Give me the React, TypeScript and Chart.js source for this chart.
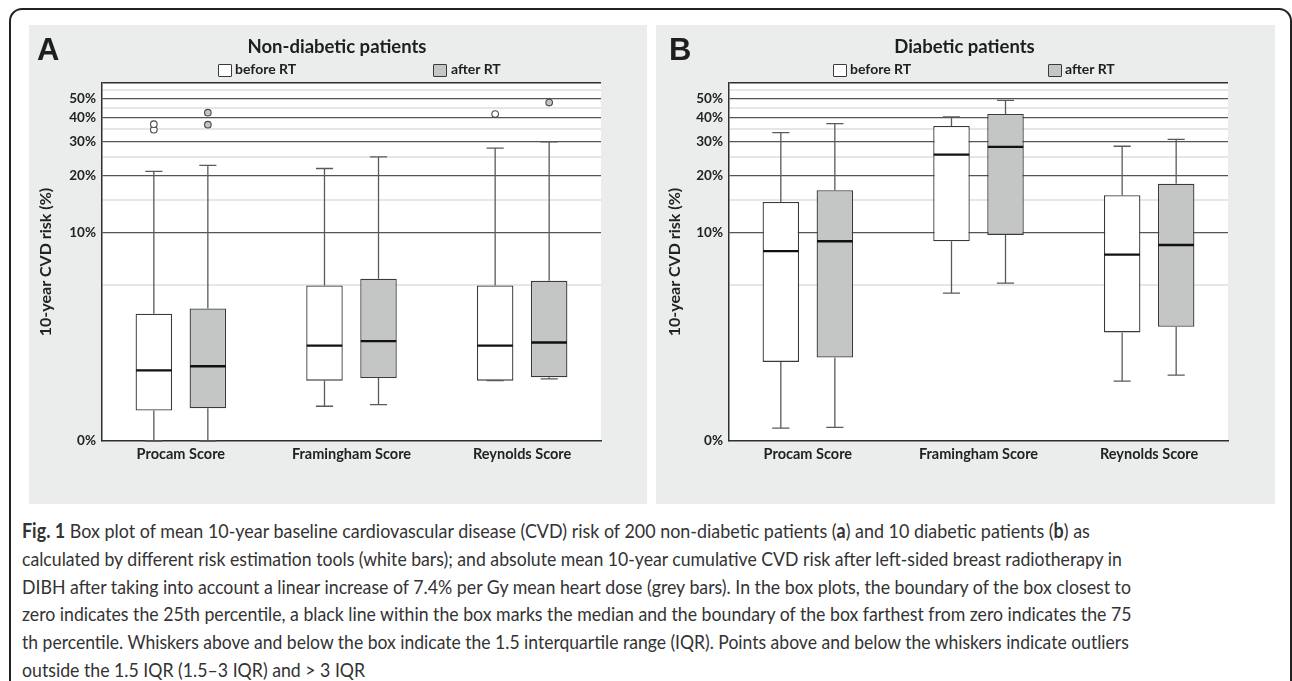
import React, { useEffect, useLayoutEffect, useRef } from 'react';
import { Chart, registerables, LinearScale } from 'chart.js';

Chart.register(...registerables);

// ---------------- data ----------------
const categories = ['Procam Score', 'Framingham Score', 'Reynolds Score'];
const categoryPositions = [0, 1, 2];
const seriesLabels = ['before RT', 'after RT'];
const yTickValues = [0, 5, 10, 15, 20, 25, 30, 35, 40, 45, 50, 55, 60];
const yLabelledTicks = [0, 10, 20, 30, 40, 50];
const yMin = 0;
const yMax = 60;

// Panel A: non-diabetic patients (values in %)
const aBeforeLow = [0, 0.49, 1.0];
const aBeforeQ1 = [0.42, 1.0, 1.0];
const aBeforeMedian = [1.25, 1.99, 1.99];
const aBeforeQ3 = [3.31, 4.97, 4.97];
const aBeforeHigh = [21.1, 21.85, 27.9];
const aBeforeOutliers = [[34.7, 37.0], [], [41.7]];
const aAfterLow = [0, 0.52, 1.04];
const aAfterQ1 = [0.455, 1.06, 1.08];
const aAfterMedian = [1.36, 2.15, 2.1];
const aAfterQ3 = [3.58, 5.44, 5.29];
const aAfterHigh = [22.7, 25.1, 30.0];
const aAfterOutliers = [[36.8, 42.4], [], [47.7]];

// Panel B: diabetic patients (values in %)
const bBeforeLow = [0.16, 4.46, 0.99];
const bBeforeQ1 = [1.48, 8.9, 2.48];
const bBeforeMedian = [7.85, 25.8, 7.5];
const bBeforeQ3 = [14.57, 36.2, 15.8];
const bBeforeHigh = [33.5, 40.3, 28.5];
const bBeforeOutliers = [[], [], []];
const bAfterLow = [0.17, 5.13, 1.13];
const bAfterQ1 = [1.61, 9.66, 2.71];
const bAfterMedian = [8.92, 28.3, 8.5];
const bAfterQ3 = [16.8, 41.7, 18.2];
const bAfterHigh = [37.3, 49.0, 30.9];
const bAfterOutliers = [[], [], []];

const captionLines = [
  [['Fig. 1', true], [' Box plot of mean 10-year baseline cardiovascular disease (CVD) risk of 200 non-diabetic patients (', false], ['a', true], [') and 10 diabetic patients (', false], ['b', true], [') as', false]],
  [['calculated by different risk estimation tools (white bars); and absolute mean 10-year cumulative CVD risk after left-sided breast radiotherapy in', false]],
  [['DIBH after taking into account a linear increase of 7.4% per Gy mean heart dose (grey bars). In the box plots, the boundary of the box closest to', false]],
  [['zero indicates the 25th percentile, a black line within the box marks the median and the boundary of the box farthest from zero indicates the 75', false]],
  [['th percentile. Whiskers above and below the box indicate the 1.5 interquartile range (IQR). Points above and below the whiskers indicate outliers', false]],
  [['outside the 1.5 IQR (1.5\u20133 IQR) and > 3 IQR', false]],
];
// right edge for each fully justified caption line (null = use the common scale)
const captionRightEdges = [1090, 1121.5, 1131, 1131.5, 1129, null];

// ---------------- styling ----------------
const PANEL_BG = '#ebecec';
const AFTER_FILL = '#c4c5c5';
const FONT = 'Lato, "Open Sans", sans-serif';

// custom scale: log10(v + 1)
class Log1pScale extends LinearScale {
  static id = 'log1p';
  static defaults = { ...(LinearScale as any).defaults };
  determineDataLimits() {
    const o: any = this.options;
    this.min = o.min;
    this.max = o.max;
  }
  buildTicks() {
    return yTickValues.map((value) => ({ value }));
  }
  configure() {
    super.configure();
    (this as any)._lmin = Math.log10(this.min + 1);
    (this as any)._lrange = Math.log10(this.max + 1) - (this as any)._lmin;
  }
  getPixelForValue(value: number) {
    const s: any = this;
    return this.getPixelForDecimal((Math.log10(value + 1) - s._lmin) / s._lrange);
  }
  getValueForPixel(pixel: number) {
    const s: any = this;
    return Math.pow(10, s._lmin + this.getDecimalForPixel(pixel) * s._lrange) - 1;
  }
}
Chart.register(Log1pScale as any);

const boxPlugin = {
  id: 'boxWhiskers',
  beforeDraw(chart: any) {
    const { ctx, chartArea: a } = chart;
    ctx.save();
    ctx.fillStyle = '#ffffff';
    ctx.fillRect(a.left, a.top, a.right - a.left, a.bottom - a.top);
    ctx.restore();
  },
  afterDatasetsDraw(chart: any) {
    const ctx = chart.ctx;
    const y = chart.scales.y;
    chart.data.datasets.forEach((ds: any, di: number) => {
      const meta = chart.getDatasetMeta(di);
      meta.data.forEach((bar: any, i: number) => {
        const { x, width } = bar.getProps(['x', 'width'], true);
        const half = width / 2;
        const cap = width * 0.235;
        const pQ1 = y.getPixelForValue(ds.q1[i]);
        const pQ3 = y.getPixelForValue(ds.q3[i]);
        const pLo = y.getPixelForValue(ds.lows[i]);
        const pHi = y.getPixelForValue(ds.highs[i]);
        const pMed = y.getPixelForValue(ds.medians[i]);
        ctx.save();
        ctx.strokeStyle = '#5a5a5a';
        ctx.lineWidth = 1.3;
        ctx.beginPath();
        ctx.moveTo(x, pQ3);
        ctx.lineTo(x, pHi);
        ctx.moveTo(x - cap, pHi);
        ctx.lineTo(x + cap, pHi);
        ctx.moveTo(x, pQ1);
        ctx.lineTo(x, pLo);
        ctx.moveTo(x - cap, pLo);
        ctx.lineTo(x + cap, pLo);
        ctx.stroke();
        ctx.strokeStyle = '#111';
        ctx.lineWidth = 2.4;
        ctx.beginPath();
        ctx.moveTo(x - half + 0.5, pMed);
        ctx.lineTo(x + half - 0.5, pMed);
        ctx.stroke();
        (ds.outliers[i] || []).forEach((v: number) => {
          const py = y.getPixelForValue(v);
          ctx.beginPath();
          ctx.arc(x, py, 3.3, 0, Math.PI * 2);
          ctx.fillStyle = ds.backgroundColor;
          ctx.fill();
          ctx.strokeStyle = '#4a4a4a';
          ctx.lineWidth = 1.1;
          ctx.stroke();
        });
        ctx.restore();
      });
    });
  },
};

function makeDataset(label: string, q1: number[], q3: number[], med: number[], lo: number[], hi: number[], outliers: number[][], fill: string) {
  return {
    label,
    data: categoryPositions.map((x, i) => ({ x, y: [q1[i], q3[i]] })),
    backgroundColor: fill,
    borderColor: '#3a3a3a',
    borderWidth: 1.3,
    borderSkipped: false,
    categoryPercentage: 0.633,
    barPercentage: 0.676,
    q1,
    q3,
    medians: med,
    lows: lo,
    highs: hi,
    outliers,
  };
}

function PanelChart(props: { width: number; height: number; datasets: any[]; titlePad: number }) {
  const ref = useRef<HTMLCanvasElement>(null);
  const { width, height, datasets, titlePad } = props;
  useEffect(() => {
    if (!ref.current) return;
    const chart = new Chart(ref.current, {
      type: 'bar',
      data: { datasets },
      options: {
        responsive: false,
        animation: false,
        events: [],
        layout: { padding: { left: 0, top: 58, right: width - 572, bottom: 0 } },
        plugins: { legend: { display: false }, title: { display: false }, tooltip: { enabled: false } },
        scales: {
          x: {
            type: 'linear',
            min: -0.462,
            max: 2.462,
            bounds: 'data',
            offset: false,
            afterBuildTicks: (s: any) => {
              s.ticks = categoryPositions.map((value) => ({ value }));
            },
            afterFit: (s: any) => {
              s.height = height - 416;
            },
            grid: { display: false, drawTicks: false },
            border: { display: true, color: '#2e2e2e', width: 1.5 },
            ticks: {
              autoSkip: false,
              maxRotation: 0,
              minRotation: 0,
              padding: 5,
              color: '#222',
              font: { family: FONT, weight: 'bold', size: 14.5 },
              callback: (v: any) => categories[v] ?? '',
            },
          },
          y: {
            type: 'log1p' as any,
            min: yMin,
            max: yMax,
            afterFit: (s: any) => {
              s.width = 73;
            },
            grid: {
              drawTicks: false,
              color: (c: any) => {
                const v = c.tick ? c.tick.value : 0;
                if (v === 0) return 'rgba(0,0,0,0)';
                if (v === yMax) return '#2e2e2e';
                return v % 10 === 0 ? '#555555' : '#e6e6e6';
              },
              lineWidth: (c: any) => {
                const v = c.tick ? c.tick.value : 0;
                if (v === yMax) return 1.5;
                return v % 10 === 0 ? 1.3 : 2;
              },
            },
            border: { display: true, color: '#2e2e2e', width: 1.5 },
            ticks: {
              autoSkip: false,
              padding: 6,
              color: '#222',
              font: { family: FONT, weight: 'bold', size: 13.5 },
              callback: (v: any) => (yLabelledTicks.includes(v) ? v + '%' : ''),
            },
            title: {
              display: true,
              text: '10-year CVD risk (%)',
              color: '#222',
              font: { family: FONT, weight: 'bold', size: 16 },
              padding: { top: titlePad, bottom: 0 },
            },
          },
        },
      } as any,
      plugins: [boxPlugin],
    });
    return () => chart.destroy();
  }, []);
  return <canvas ref={ref} width={width} height={height} style={{ display: 'block', width, height }} />;
}

function Caption() {
  const refs = useRef<(HTMLDivElement | null)[]>([]);
  useLayoutEffect(() => {
    const fit = () => {
      const scales: number[] = [];
      refs.current.forEach((el, i) => {
        const right = captionRightEdges[i];
        if (!el || right == null) return;
        const w = el.offsetWidth;
        if (w > 0) {
          const s = (right - 22) / w;
          scales.push(s);
          el.style.transform = `scaleX(${s})`;
        }
      });
      const avg = scales.length ? scales.reduce((a, b) => a + b, 0) / scales.length : 1;
      refs.current.forEach((el, i) => {
        if (el && captionRightEdges[i] == null) el.style.transform = `scaleX(${avg})`;
      });
    };
    fit();
    if ((document as any).fonts && (document as any).fonts.ready) (document as any).fonts.ready.then(fit);
  }, []);
  return (
    <>
      {captionLines.map((parts, li) => (
        <div
          key={li}
          ref={(el) => {
            refs.current[li] = el;
          }}
          style={{
            position: 'absolute',
            left: 22,
            top: 516 + li * 27.8,
            whiteSpace: 'nowrap',
            fontFamily: FONT,
            fontSize: 20,
            lineHeight: '28px',
            color: '#333',
            transformOrigin: '0 0',
          }}
        >
          {parts.map((p: any, i: number) => (
            <span key={i} style={{ fontWeight: p[1] ? 700 : 400 }}>
              {p[0]}
            </span>
          ))}
        </div>
      ))}
    </>
  );
}

function Txt(props: { left?: number; center?: number; baseline: number; size: number; family?: string; children: any; ascent?: number }) {
  const asc = props.ascent ?? 0.887;
  const top = props.baseline - asc * props.size;
  const style: any = {
    position: 'absolute',
    top,
    fontFamily: props.family ?? FONT,
    fontWeight: 700,
    fontSize: props.size,
    lineHeight: 1,
    whiteSpace: 'nowrap',
    color: '#1e1e1e',
  };
  if (props.center !== undefined) {
    style.left = props.center - 300;
    style.width = 600;
    style.textAlign = 'center';
  } else {
    style.left = props.left;
  }
  return <div style={style}>{props.children}</div>;
}

function LegendBox(props: { left: number; fill: string }) {
  return (
    <div
      style={{
        position: 'absolute',
        left: props.left,
        top: 64,
        width: 14,
        height: 12.5,
        boxSizing: 'border-box',
        border: '1px solid #3a3a3a',
        borderRadius: 1,
        background: props.fill,
      }}
    />
  );
}

export default function App() {
  const dsA = [
    makeDataset(seriesLabels[0], aBeforeQ1, aBeforeQ3, aBeforeMedian, aBeforeLow, aBeforeHigh, aBeforeOutliers, '#ffffff'),
    makeDataset(seriesLabels[1], aAfterQ1, aAfterQ3, aAfterMedian, aAfterLow, aAfterHigh, aAfterOutliers, AFTER_FILL),
  ];
  const dsB = [
    makeDataset(seriesLabels[0], bBeforeQ1, bBeforeQ3, bBeforeMedian, bBeforeLow, bBeforeHigh, bBeforeOutliers, '#ffffff'),
    makeDataset(seriesLabels[1], bAfterQ1, bAfterQ3, bAfterMedian, bAfterLow, bAfterHigh, bAfterOutliers, AFTER_FILL),
  ];
  return (
    <div style={{ position: 'fixed', left: 0, top: 0, width: 1292, height: 681, overflow: 'hidden', background: '#fff' }}>
      <div
        style={{
          position: 'absolute',
          left: 9,
          top: 8,
          width: 1283,
          height: 690,
          boxSizing: 'border-box',
          border: '2px solid #222',
          borderRadius: 13,
        }}
      />
      <div style={{ position: 'absolute', left: 29, top: 25, width: 618, height: 479, background: PANEL_BG }}>
        <PanelChart width={618} height={479} datasets={dsA} titlePad={7.3} />
      </div>
      <div style={{ position: 'absolute', left: 656, top: 25, width: 619, height: 479, background: PANEL_BG }}>
        <PanelChart width={619} height={479} datasets={dsB} titlePad={9.5} />
      </div>

      <Txt left={37} baseline={60} size={31} family={'"Liberation Sans", Arial, sans-serif'} ascent={0.8465}>A</Txt>
      <Txt center={337} baseline={53.3} size={18.5}>Non-diabetic patients</Txt>
      <LegendBox left={218} fill="#ffffff" />
      <Txt left={235} baseline={74} size={14}>{seriesLabels[0]}</Txt>
      <LegendBox left={433} fill={AFTER_FILL} />
      <Txt left={451} baseline={74} size={14}>{seriesLabels[1]}</Txt>

      <Txt left={669} baseline={60} size={31} family={'"Liberation Sans", Arial, sans-serif'} ascent={0.8465}>B</Txt>
      <Txt center={964.5} baseline={53.3} size={18.5}>Diabetic patients</Txt>
      <LegendBox left={833} fill="#ffffff" />
      <Txt left={850} baseline={74} size={14}>{seriesLabels[0]}</Txt>
      <LegendBox left={1048} fill={AFTER_FILL} />
      <Txt left={1065} baseline={74} size={14}>{seriesLabels[1]}</Txt>

      <Caption />
    </div>
  );
}
